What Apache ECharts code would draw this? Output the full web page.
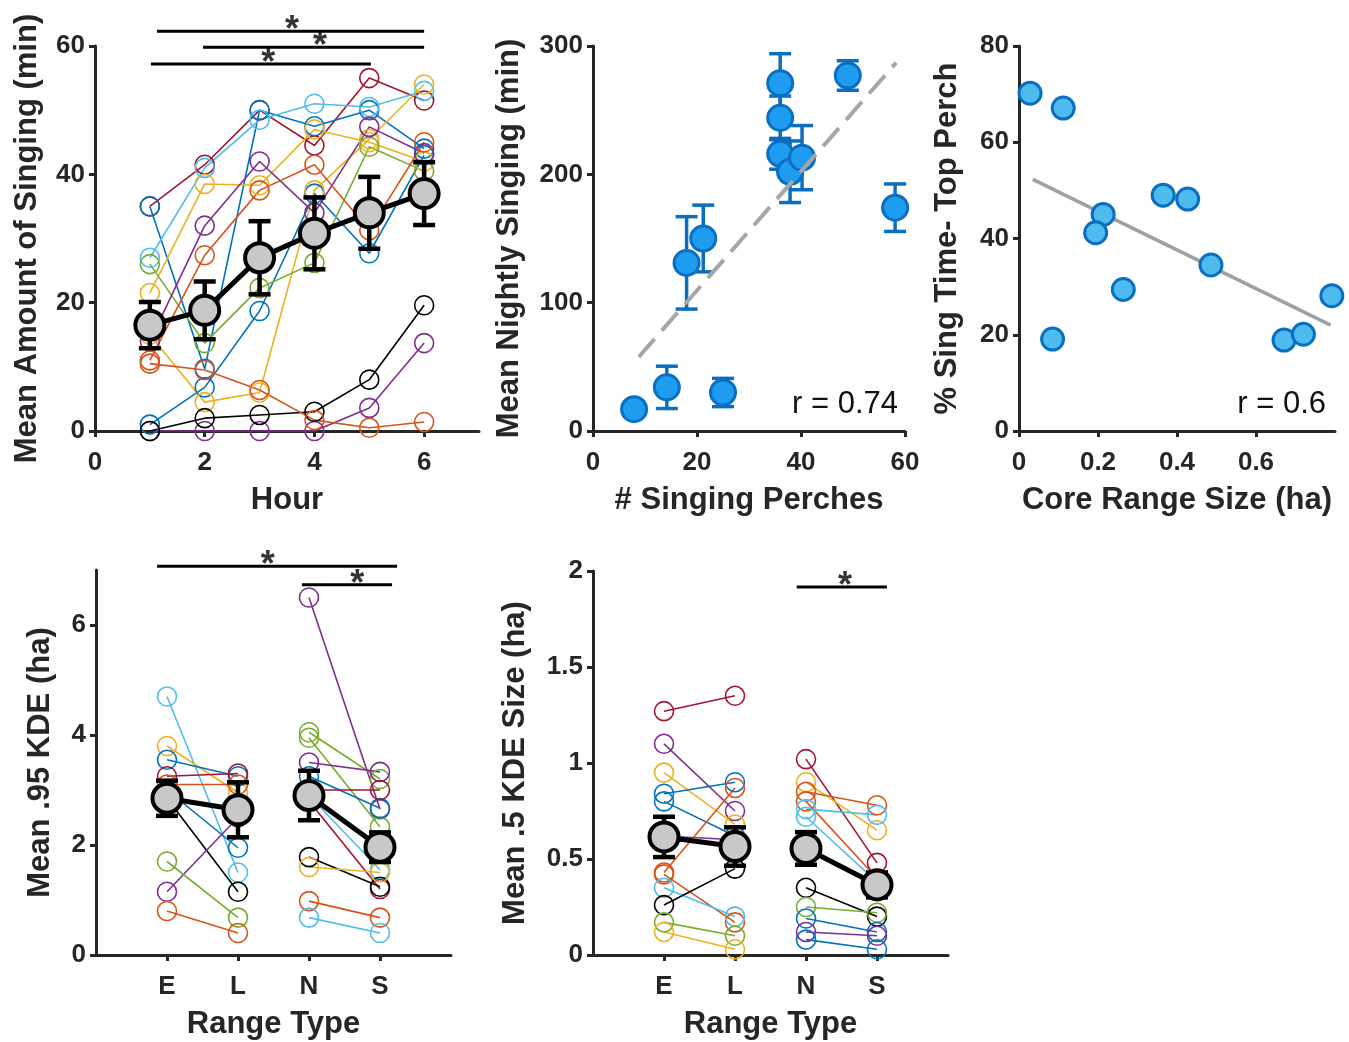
<!DOCTYPE html>
<html><head><meta charset="utf-8">
<script src="https://cdn.jsdelivr.net/npm/echarts@6/dist/echarts.min.js"></script>
<style>html,body{margin:0;padding:0;background:#fff}#c{width:1349px;height:1042px}</style>
</head><body><div id="c"></div>
<script>
// ---------- palette ----------
const COLORS = {blue:'#0072BD', orange:'#D95319', yellow:'#EDB120', purple:'#7E2F8E',
  green:'#77AC30', lightblue:'#4DBEEE', darkred:'#A2142F', black:'#000000'};

// ---------- Panel A: singing per hour ----------
const hours = [1,2,3,4,5,6];
const hourTicks = [0,2,4,6];
const singColors = ['darkred','blue','blue','lightblue','yellow','yellow','green','purple','purple','black','orange','orange'];
const singValues = [
  [35, 41.5, 50, 44.5, 55, 51.5],
  [35, 9.7, 50, 47.5, 50, 44],
  [1, 6.8, 18.7, 37, 27.7, 43],
  [27, 41, 48.5, 51, 50.5, 53],
  [21.5, 38.5, 38.3, 47, 45, 42],
  [15, 4.5, 6, 37.5, 45.5, 54],
  [26, 13.7, 22.3, 26.2, 44.3, 40.5],
  [14, 32, 42, 34, 47.4, 43.3],
  [0, 0, 0, 0, 3.6, 13.7],
  [0, 2, 2.5, 3, 8, 19.6],
  [11, 27.4, 37.5, 41.5, 31.3, 45],
  [10.5, 9.5, 6.4, 1.7, 0.5, 1.4]
];
const singMean = [16.5, 18.8, 27, 30.8, 34, 37];
const singErr  = [3.6, 4.5, 5.7, 5.6, 5.6, 4.9];
const hourSigBars  = [[1.13, 6, 62.3], [1.97, 6, 59.8], [1.02, 5.03, 57.2]];
const hourSigStars = [[3.59, 62.3], [4.10, 59.8], [3.16, 57.2]];

// ---------- Panel B: perches vs nightly singing ----------
const perches    = [7.9, 14.2, 25, 18, 21.2, 36, 36, 36, 37.9, 40.2, 49, 58.1];
const nightly    = [17, 34, 30, 131, 150, 271, 244, 216, 202, 213, 277, 174];
const nightlyErr = [3, 16.5, 11, 36, 26, 23, 17, 12, 24, 25, 11.5, 18.5];
const perchFit   = [[8.8, 57.7], [58.3, 287]];
const perchR = 'r = 0.74';

// ---------- Panel C: core range vs top perch ----------
const coreRange = [0.028, 0.112, 0.085, 0.213, 0.194, 0.264, 0.365, 0.427, 0.486, 0.671, 0.72, 0.792];
const topPerch  = [70.2, 67.1, 19.1, 45.0, 41.2, 29.4, 49.0, 48.2, 34.5, 18.9, 20.1, 28.1];
const coreFit   = [[0.035, 52.3], [0.789, 22.0]];
const coreR = 'r = 0.6';

// ---------- Panels D/E: range types ----------
const rangeTypes = ['E','L','N','S'];
const kde95ELColors = ['lightblue','yellow','blue','darkred','orange','blue','black','purple','green','orange'];
const kde95EL = [[4.7,1.5],[3.8,2.95],[3.55,3.25],[3.25,3.3],[3.1,3.1],[3.0,1.95],[2.85,1.15],[1.15,2.5],[1.7,0.68],[0.8,0.4]];
const kde95NSColors = ['purple','green','green','purple','blue','darkred','lightblue','darkred','black','yellow','orange','lightblue'];
const kde95NS = [[6.5,2.65],[4.05,3.2],[3.95,2.33],[3.5,3.33],[3.25,2.67],[3.0,3.0],[2.9,1.55],[2.8,1.2],[1.78,1.24],[1.6,1.5],[0.98,0.68],[0.68,0.4]];
const kde95Mean = [2.85, 2.64, 2.9, 1.96];
const kde95Err  = [0.32, 0.5, 0.45, 0.27];
const kde95SigBars  = [[0.86, 4.24, 7.07], [2.9, 4.17, 6.73]];
const kde95SigStars = [[2.42, 7.07], [3.68, 6.73]];

const kde50ELColors = ['darkred','purple','yellow','blue','blue','purple','orange','orange','lightblue','black','green','yellow'];
const kde50EL = [[1.27,1.35],[1.1,0.75],[0.95,0.68],[0.84,0.9],[0.8,0.62],[0.62,0.6],[0.43,0.87],[0.42,0.17],[0.35,0.2],[0.26,0.45],[0.17,0.1],[0.12,0.03]];
const kde50NSColors = ['darkred','yellow','orange','orange','lightblue','lightblue','black','green','blue','purple','blue'];
const kde50NS = [[1.02,0.48],[0.9,0.65],[0.85,0.78],[0.8,0.4],[0.76,0.73],[0.72,0.38],[0.35,0.2],[0.25,0.22],[0.19,0.12],[0.12,0.1],[0.08,0.03]];
const kde50Mean = [0.615, 0.565, 0.555, 0.365];
const kde50Err  = [0.105, 0.1, 0.085, 0.065];
const kde50SigBars  = [[2.87, 4.14, 1.917]];
const kde50SigStars = [[3.55, 1.917]];

// ---------- build ----------
const FONT = '"Liberation Sans", Arial, Helvetica, sans-serif';
const AX = '#262626';
const TICKFS = 26, NAMEFS = 31;
const chart = echarts.init(document.getElementById('c'), null, {renderer:'canvas'});

function lbl(o) { return Object.assign({color:AX, fontSize:TICKFS, fontWeight:'bold', fontFamily:FONT, margin:10}, o); }
function tick(vals) { const t = {show:true, inside:false, length:6, lineStyle:{color:AX, width:3}}; if (vals) t.customValues = vals; return t; }
function valueAxis(idx, o) {
  return Object.assign({
    type:'value', gridIndex: idx, splitLine:{show:false},
    axisLine:{show:true, onZero:false, lineStyle:{color:AX, width:3}},
    axisTick:tick(), axisLabel:lbl({}),
    nameLocation:'middle',
    nameTextStyle:{color:AX, fontSize:NAMEFS, fontWeight:'bold', fontFamily:FONT}
  }, o);
}
const series = [];
function openLine(g, xs, ys, col, z) {
  series.push({type:'line', xAxisIndex:g, yAxisIndex:g, data: xs.map((x,i)=>[x, ys[i]]),
    symbol:'circle', symbolSize:19, z: z||2, silent:true,
    lineStyle:{color:COLORS[col], width:1.6},
    itemStyle:{color:'rgba(0,0,0,0)', borderColor:COLORS[col], borderWidth:1.6}});
}
function errBars(g, xs, ys, es, col, lw, capW, z) {
  series.push({type:'custom', xAxisIndex:g, yAxisIndex:g, z:z, silent:true,
    data: xs.map((x,i)=>[x, ys[i], es[i]]),
    renderItem(params, api) {
      const x=api.value(0), y=api.value(1), e=api.value(2);
      const p1=api.coord([x,y+e]), p2=api.coord([x,y-e]); const hw=capW/2;
      const st={stroke:col, lineWidth:lw};
      return {type:'group', children:[
        {type:'line', shape:{x1:p1[0],y1:p1[1],x2:p2[0],y2:p2[1]}, style:st},
        {type:'line', shape:{x1:p1[0]-hw,y1:p1[1],x2:p1[0]+hw,y2:p1[1]}, style:st},
        {type:'line', shape:{x1:p2[0]-hw,y1:p2[1],x2:p2[0]+hw,y2:p2[1]}, style:st}]};
    }});
}
function meanLine(g, xs, ys, z) {
  series.push({type:'line', xAxisIndex:g, yAxisIndex:g, data: xs.map((x,i)=>[x, ys[i]]),
    symbol:'circle', symbolSize:29, z:z||6, silent:true,
    lineStyle:{color:'#000', width:5},
    itemStyle:{color:'#c8c8c8', borderColor:'#000', borderWidth:4}});
}
function sig(g, bars, stars) {
  bars.forEach(b => series.push({type:'line', xAxisIndex:g, yAxisIndex:g, clip:false, silent:true,
    data:[[b[0], b[2]], [b[1], b[2]]], symbol:'none', lineStyle:{color:'#000', width:3}, z:3}));
  series.push({type:'scatter', xAxisIndex:g, yAxisIndex:g, clip:false, silent:true, data: stars,
    symbolSize:1, itemStyle:{color:'rgba(0,0,0,0)'}, z:3,
    label:{show:true, position:'inside', formatter:'*', color:'#000', fontSize:36, fontWeight:'bold', fontFamily:FONT}});
}

// Panel A
singValues.forEach((v,i)=>openLine(0, hours, v, singColors[i]));
errBars(0, hours, singMean, singErr, '#000', 4.5, 22, 5);
meanLine(0, hours, singMean);
sig(0, hourSigBars, hourSigStars);

// Panel B
errBars(1, perches, nightly, nightlyErr, '#0a6fc0', 3.5, 22, 3);
series.push({type:'scatter', xAxisIndex:1, yAxisIndex:1, data: perches.map((x,i)=>[x, nightly[i]]),
  symbolSize:25, z:4, silent:true, itemStyle:{color:'#1d9cf0', borderColor:'#0a6fc0', borderWidth:3, opacity:1}});
series.push({type:'line', xAxisIndex:1, yAxisIndex:1, data: perchFit, symbol:'none', z:5, silent:true,
  lineStyle:{color:'#a6a6a6', width:4, type:[24,11]}});

// Panel C
series.push({type:'line', xAxisIndex:2, yAxisIndex:2, data: coreFit, symbol:'none', z:3, silent:true,
  lineStyle:{color:'#a0a0a0', width:3.5}});
series.push({type:'scatter', xAxisIndex:2, yAxisIndex:2, data: coreRange.map((x,i)=>[x, topPerch[i]]),
  symbolSize:22, z:4, silent:true, itemStyle:{color:'#4dbbee', borderColor:'#0a6fc0', borderWidth:3, opacity:1}});

// Panel D
const posEL=[1,2], posNS=[3,4], posAll=rangeTypes.map((t,i)=>i+1);
kde95EL.forEach((v,i)=>openLine(3, posEL, v, kde95ELColors[i]));
kde95NS.forEach((v,i)=>openLine(3, posNS, v, kde95NSColors[i]));
errBars(3, posAll, kde95Mean, kde95Err, '#000', 4.5, 22, 5);
meanLine(3, posEL, kde95Mean.slice(0,2));
meanLine(3, posNS, kde95Mean.slice(2,4));
sig(3, kde95SigBars, kde95SigStars);

// Panel E
kde50EL.forEach((v,i)=>openLine(4, posEL, v, kde50ELColors[i]));
kde50NS.forEach((v,i)=>openLine(4, posNS, v, kde50NSColors[i]));
errBars(4, posAll, kde50Mean, kde50Err, '#000', 4.5, 22, 5);
meanLine(4, posEL, kde50Mean.slice(0,2));
meanLine(4, posNS, kde50Mean.slice(2,4));
sig(4, kde50SigBars, kde50SigStars);

const rtFormatter = v => rangeTypes[Math.round(v)-1] || '';

chart.setOption({
  animation:false,
  backgroundColor:'#fff',
  grid:[
    {left:95, top:46, width:384, height:385},
    {left:593, top:46, width:312, height:385},
    {left:1019, top:46, width:316, height:385},
    {left:96, top:570, width:355, height:385},
    {left:593, top:571, width:355, height:384}
  ],
  xAxis:[
    valueAxis(0, {min:0, max:7, name:'Hour', nameGap:54,
      axisTick:tick(hourTicks), axisLabel:lbl({customValues:hourTicks, margin:19})}),
    valueAxis(1, {min:0, max:60, interval:20, name:'# Singing Perches', nameGap:54,
      axisLabel:lbl({margin:19})}),
    valueAxis(2, {min:0, max:0.8, name:'Core Range Size (ha)', nameGap:54,
      axisTick:tick([0,0.2,0.4,0.6]), axisLabel:lbl({customValues:[0,0.2,0.4,0.6], margin:19})}),
    valueAxis(3, {min:0, max:5, name:'Range Type', nameGap:54,
      axisTick:tick(posAll), axisLabel:lbl({customValues:posAll, formatter:rtFormatter, margin:19})}),
    valueAxis(4, {min:0, max:5, name:'Range Type', nameGap:54,
      axisTick:tick(posAll), axisLabel:lbl({customValues:posAll, formatter:rtFormatter, margin:19})})
  ],
  yAxis:[
    valueAxis(0, {min:0, max:60, interval:20, name:'Mean Amount of Singing (min)', nameGap:52}),
    valueAxis(1, {min:0, max:300, interval:100, name:'Mean Nightly Singing (min)', nameGap:68}),
    valueAxis(2, {min:0, max:80, interval:20, name:'% Sing Time- Top Perch', nameGap:56}),
    valueAxis(3, {min:0, max:7, name:'Mean .95 KDE (ha)', nameGap:40,
      axisTick:tick([0,2,4,6]), axisLabel:lbl({customValues:[0,2,4,6]})}),
    valueAxis(4, {min:0, max:2, interval:0.5, name:'Mean .5 KDE Size (ha)', nameGap:62})
  ],
  graphic:[
    {type:'text', right:1349-898, top:389, style:{text:perchR, fontSize:31, fontFamily:FONT, fill:'#111'}},
    {type:'text', right:1349-1326, top:389, style:{text:coreR, fontSize:31, fontFamily:FONT, fill:'#111'}}
  ],
  series
});
</script></body></html>
